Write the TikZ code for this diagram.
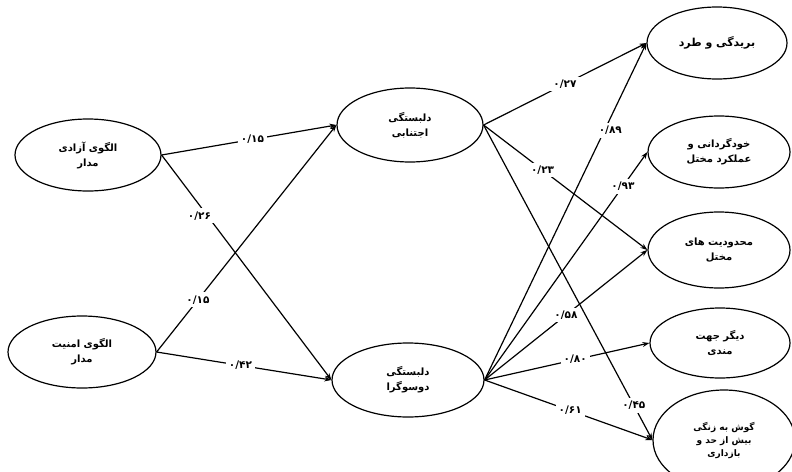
\documentclass[tikz,border=0pt]{standalone}
\usepackage{fontspec}
\usetikzlibrary{shapes.geometric,arrows.meta}
\TeXXeTstate=1
\newfontfamily\fa[Script=Arabic]{DejaVu Sans}
\tikzset{
  ell/.style={ellipse,draw,line width=1.2pt,inner sep=0pt,align=center,font=\fa\bfseries\fontsize{10}{15}\selectfont},
  arr/.style={line width=1.2pt,-{Stealth[length=7pt,width=5pt]}},
  lbl/.style={fill=white,inner sep=3pt,font=\fa\bfseries\fontsize{10.5}{12}\selectfont}
}
\newcommand{\rtl}[1]{\beginR #1\endR}
\begin{document}
\begin{tikzpicture}[x=1pt,y=-1pt]
\useasboundingbox (0,0) rectangle (792,471);
\clip (0,0) rectangle (792,471);
\node[ell,minimum width=146pt,minimum height=72pt] (A) at (88,155) {\rtl{الگوی آزادی}\\\rtl{مدار}};
\node[ell,minimum width=148pt,minimum height=72pt] (B) at (82,352) {\rtl{الگوی امنیت}\\\rtl{مدار}};
\node[ell,minimum width=146pt,minimum height=74pt] (C) at (410,125) {\rtl{دلبستگی}\\\rtl{اجتنابی}};
\node[ell,minimum width=152pt,minimum height=74pt] (D) at (408,380) {\rtl{دلبستگی}\\\rtl{دوسوگرا}};
\node[ell,minimum width=140pt,minimum height=72pt,font=\fa\bfseries\fontsize{11}{15}\selectfont] (E1) at (717,43) {\rtl{بریدگی و طرد}};
\node[ell,minimum width=142pt,minimum height=72pt] (E2) at (719,152) {\rtl{خودگردانی و}\\\rtl{عملکرد مختل}};
\node[ell,minimum width=142pt,minimum height=76pt] (E3) at (719,250) {\rtl{محدودیت های}\\\rtl{مختل}};
\node[ell,minimum width=140pt,minimum height=70pt] (E4) at (720,343) {\rtl{دیگر جهت}\\\rtl{مندی}};
\node[ell,minimum width=142pt,minimum height=100pt,font=\fa\bfseries\fontsize{9}{13}\selectfont] (E5) at (724,440) {\rtl{گوش به زنگی}\\\rtl{بیش از حد و}\\\rtl{بازداری}};

\draw[arr] (A.east) -- node[lbl,pos=0.52] {۰/۱۵} (C.west);
\draw[arr] (A.east) -- node[lbl,pos=0.27,xshift=-8pt] {۰/۲۶} (D.west);
\draw[arr] (B.east) -- node[lbl,pos=0.23] {۰/۱۵} (C.west);
\draw[arr] (B.east) -- node[lbl,pos=0.48] {۰/۴۲} (D.west);
\draw[arr] (C.east) -- node[lbl,pos=0.5] {۰/۲۷} (E1.west);
\draw[arr] (C.east) -- node[lbl,pos=0.36] {۰/۲۳} (E3.west);
\draw[arr] (C.east) -- node[lbl,pos=0.89] {۰/۴۵} (E5.west);
\draw[arr] (D.east) -- node[lbl,pos=0.74,xshift=6pt] {۰/۸۹} (E1.west);
\draw[arr] (D.east) -- node[lbl,pos=0.85] {۰/۹۳} (E2.west);
\draw[arr] (D.east) -- node[lbl,pos=0.5] {۰/۵۸} (E3.west);
\draw[arr] (D.east) -- node[lbl,pos=0.55] {۰/۸۰} (E4.west);
\draw[arr] (D.east) -- node[lbl,pos=0.51] {۰/۶۱} (E5.west);
\end{tikzpicture}
\end{document}
